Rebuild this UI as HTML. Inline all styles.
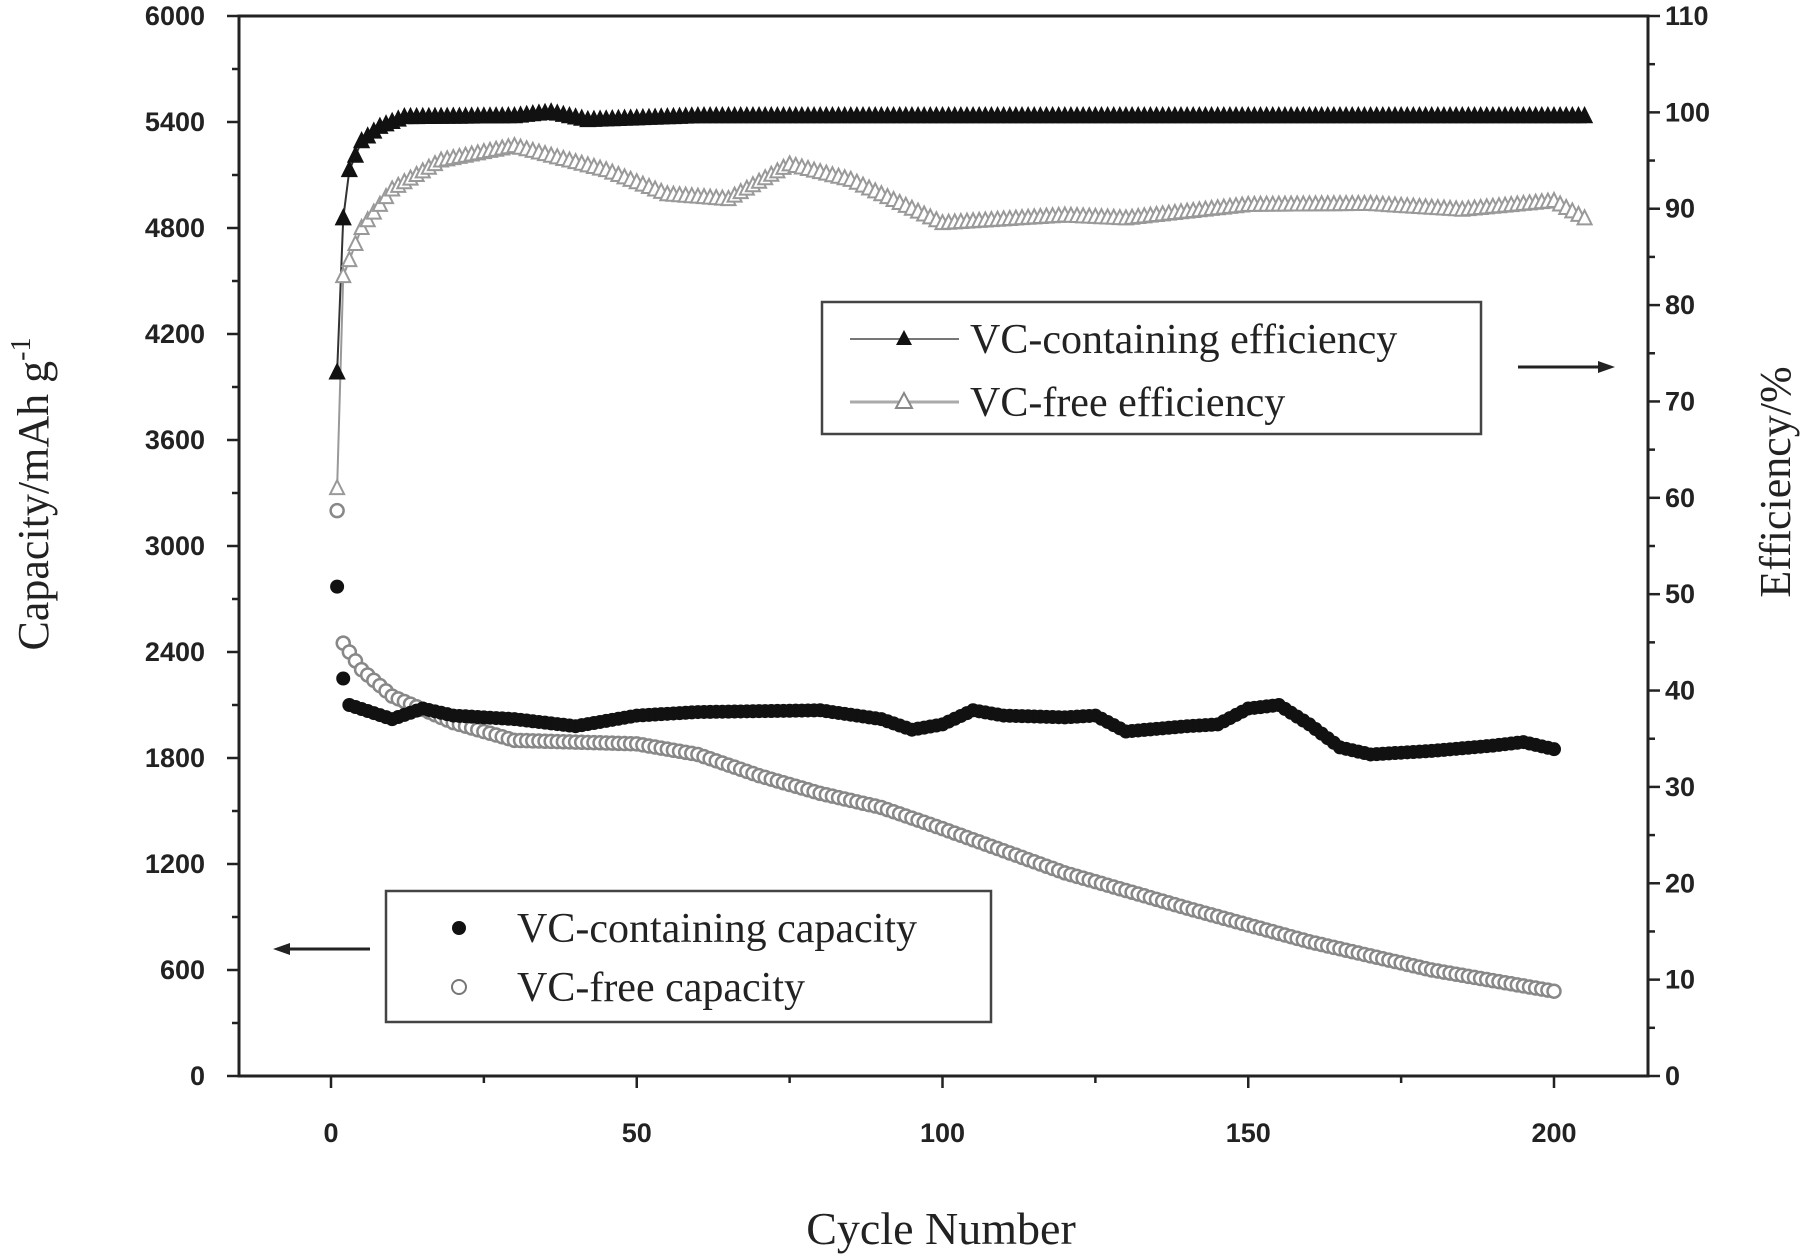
<!DOCTYPE html><html><head><style>body{margin:0;background:#fff}svg{display:block}</style></head><body>
<svg id="s" width="1800" height="1258" xmlns="http://www.w3.org/2000/svg" font-family="Liberation Sans, sans-serif">
<rect width="1800" height="1258" fill="#fff"/>
<g id="ax" stroke="#222" stroke-width="3" fill="none"><rect x="239" y="16" width="1409" height="1060"/></g>
<g id="tk" stroke="#222" stroke-width="2.5"></g>
<g id="lb" fill="#222" font-size="27" font-weight="bold"></g>
<g id="d"></g>
<text x="941" y="1244" font-family="Liberation Serif, serif" font-size="46" text-anchor="middle" fill="#222">Cycle Number</text>
<text transform="translate(48,494) rotate(-90)" font-family="Liberation Serif, serif" font-size="44" text-anchor="middle" fill="#222">Capacity/mAh g<tspan dy="-18" font-size="28">-1</tspan></text>
<text transform="translate(1790,482) rotate(-90)" font-family="Liberation Serif, serif" font-size="44" text-anchor="middle" fill="#222">Efficiency/%</text>
<g font-family="Liberation Serif, serif" font-size="42" fill="#222">
<rect x="822" y="302" width="659" height="132" fill="#fff" stroke="#444" stroke-width="2.5"/>
<line x1="850" y1="339" x2="959" y2="339" stroke="#777" stroke-width="2"/>
<polygon points="904,330 896,345 912,345" fill="#111"/>
<text x="970" y="353">VC-containing efficiency</text>
<line x1="850" y1="402" x2="959" y2="402" stroke="#aaa" stroke-width="3"/>
<polygon points="904,393 896,408 912,408" fill="#fff" stroke="#888" stroke-width="2"/>
<text x="970" y="416">VC-free efficiency</text>
<rect x="386" y="891" width="605" height="131" fill="#fff" stroke="#444" stroke-width="2.5"/>
<circle cx="459" cy="928" r="7" fill="#111"/>
<text x="517" y="942">VC-containing capacity</text>
<circle cx="459" cy="987" r="7" fill="#fff" stroke="#777" stroke-width="2"/>
<text x="517" y="1001">VC-free capacity</text>
</g>
<g stroke="#222" stroke-width="3"><line x1="1518" y1="367" x2="1600" y2="367"/><line x1="288" y1="949" x2="370" y2="949"/></g>
<polygon points="1615,367 1598,361 1598,373" fill="#222"/>
<polygon points="273,949 290,943 290,955" fill="#222"/>
</svg>
<script>
var NS="http://www.w3.org/2000/svg";
function el(p,t,a,txt){var e=document.createElementNS(NS,t);for(var k in a)e.setAttribute(k,a[k]);if(txt!=null)e.textContent=txt;document.getElementById(p).appendChild(e);return e;}
var X=c=>331+c*6.115,YL=v=>1076-v*1060/6000,YR=v=>1076-v*1060/110;
for(var v=0;v<=6000;v+=300){var y=YL(v),maj=v%600==0;el('tk','line',{x1:239,x2:239-(maj?12:7),y1:y,y2:y});if(maj)el('lb','text',{x:205,y:y+9,'text-anchor':'end'},v);}
for(var v=0;v<=110;v+=5){var y=YR(v),maj=v%10==0;el('tk','line',{x1:1648,x2:1648+(maj?12:7),y1:y,y2:y});if(maj)el('lb','text',{x:1665,y:y+9},v);}
for(var c=-25;c<=225;c+=25){var x=X(c),maj=c%50==0;if(x<239||x>1648)continue;el('tk','line',{x1:x,x2:x,y1:1076,y2:1076+(maj?12:7)});if(maj)el('lb','text',{x:x,y:1142,'text-anchor':'middle'},c);}
function interp(pts,c){for(var i=0;i<pts.length-1;i++){if(c<=pts[i+1][0]){var a=pts[i],b=pts[i+1];return a[1]+(b[1]-a[1])*(c-a[0])/(b[0]-a[0]);}}return pts[pts.length-1][1];}
var effC=[[1,73],[2,89],[3,94],[5,97],[8,98.5],[12,99.5],[30,99.6],[36,100],[42,99.2],[60,99.6],[205,99.6]];
var effF=[[1,61],[2,83],[5,88],[10,92],[18,95],[30,96.5],[45,94],[55,91.5],[65,91],[75,94.6],[85,93],[100,88.5],[120,89.3],[130,89],[150,90.4],[170,90.5],[185,89.9],[200,90.8],[205,89]];
var capC=[[1,2770],[2,2250],[3,2100],[10,2020],[15,2080],[20,2040],[30,2020],[40,1980],[50,2040],[60,2060],[80,2070],[90,2020],[95,1960],[100,1990],[105,2070],[110,2040],[120,2030],[125,2040],[130,1950],[140,1980],[145,1990],[150,2080],[155,2100],[160,1990],[165,1860],[170,1820],[180,1840],[190,1870],[195,1890],[200,1850]];
var capF=[[1,3200],[2,2450],[5,2300],[10,2150],[20,2000],[30,1900],[50,1880],[60,1820],[70,1700],[80,1600],[90,1520],[100,1400],[120,1150],[140,950],[160,760],[180,600],[200,480]];
function line(pts,f,max,col){var d='';for(var c=1;c<=max;c+=0.5)d+=(c==1?'M':'L')+X(c)+','+f(interp(pts,c));el('d','path',{d:d,fill:'none',stroke:col,'stroke-width':2});}
line(effF,YR,205,'#999');line(effC,YR,205,'#333');
for(var c=1;c<=200;c++){el('d','circle',{cx:X(c),cy:YL(interp(capF,c)),r:6.5,fill:'#fff',stroke:'#888','stroke-width':2.5});}
for(var c=1;c<=200;c++){el('d','circle',{cx:X(c),cy:YL(interp(capC,c)),r:7,fill:'#111'});}
function tri(x,y,f,st){el('d','polygon',{points:(x)+','+(y-8)+' '+(x-7)+','+(y+6)+' '+(x+7)+','+(y+6),fill:f,stroke:st,'stroke-width':2});}
for(var c=1;c<=205;c++)tri(X(c),YR(interp(effF,c)),'#fff','#999');
for(var c=1;c<=205;c++)tri(X(c),YR(interp(effC,c)),'#111','#111');
</script>
</body></html>
